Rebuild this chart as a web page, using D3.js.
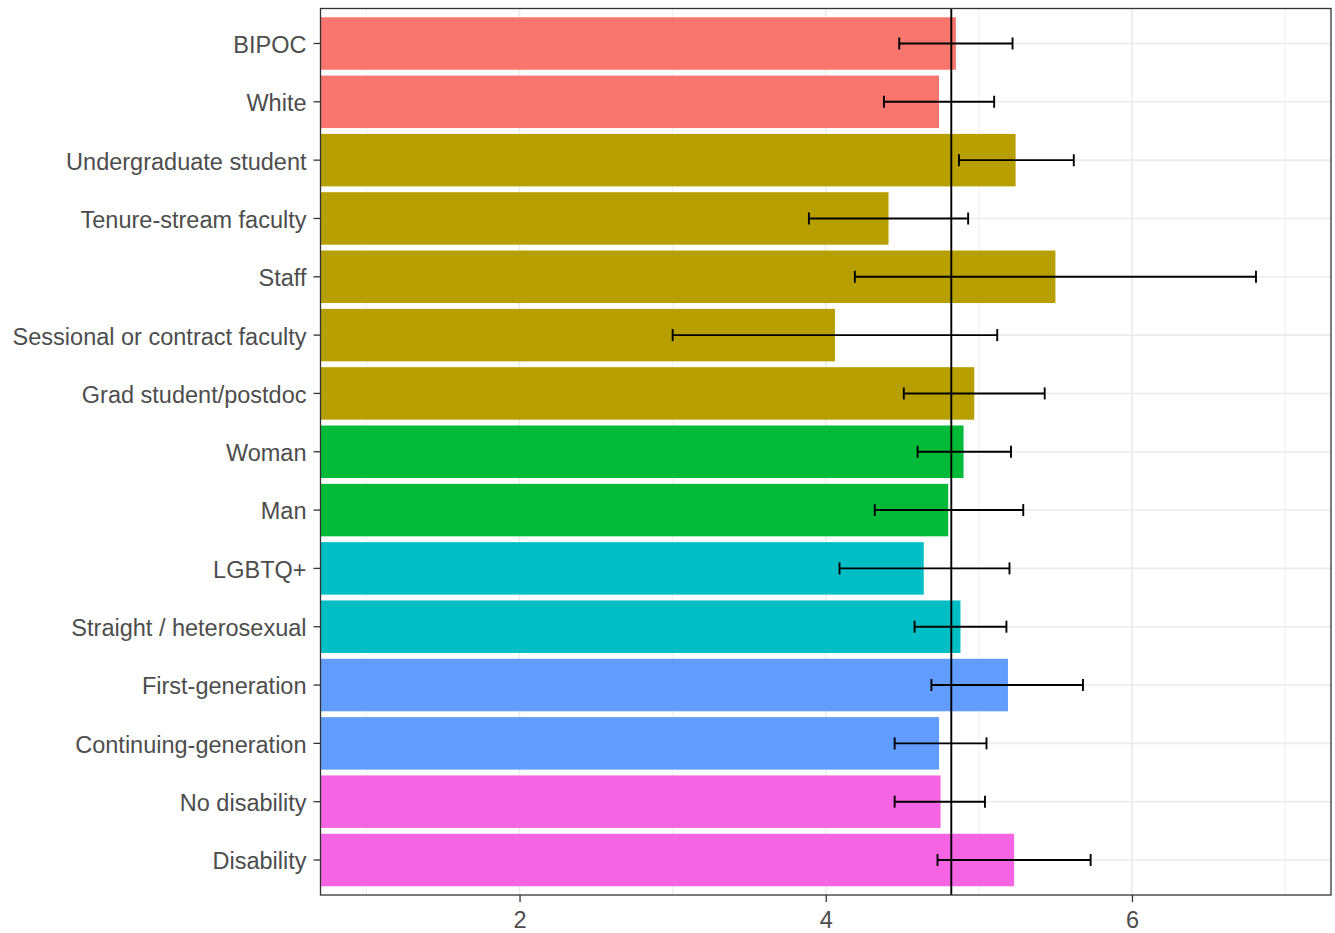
<!DOCTYPE html>
<html>
<head>
<meta charset="utf-8">
<script src="https://cdn.jsdelivr.net/npm/d3@7"></script>
<style>
  html, body { margin: 0; padding: 0; background: #ffffff; }
  svg { display: block; }
  text { font-family: "Liberation Sans", Arial, sans-serif; }
</style>
</head>
<body>
<svg id="chart" width="1335" height="933"></svg>
<script>
// Mean score per respondent group with 95% confidence interval
const categories = [
  "BIPOC", "White",
  "Undergraduate student", "Tenure-stream faculty", "Staff",
  "Sessional or contract faculty", "Grad student/postdoc",
  "Woman", "Man",
  "LGBTQ+", "Straight / heterosexual",
  "First-generation", "Continuing-generation",
  "No disability", "Disability"
];
const groups = [
  "Race", "Race",
  "Role", "Role", "Role", "Role", "Role",
  "Gender", "Gender",
  "Sexuality", "Sexuality",
  "Generation", "Generation",
  "Disability", "Disability"
];
const means = [4.85, 4.74, 5.24, 4.41, 5.50, 4.06, 4.97, 4.90, 4.80, 4.64, 4.88, 5.19, 4.74, 4.75, 5.23];
const lower = [4.48, 4.38, 4.87, 3.89, 4.19, 3.00, 4.51, 4.60, 4.32, 4.09, 4.58, 4.69, 4.45, 4.45, 4.73];
const upper = [5.22, 5.10, 5.62, 4.93, 6.81, 5.12, 5.43, 5.21, 5.29, 5.20, 5.18, 5.68, 5.05, 5.04, 5.73];
const overallMean = 4.82;
const groupNames = ["Race", "Role", "Gender", "Sexuality", "Generation", "Disability"];
const groupColors = ["#F8766D", "#B79F00", "#00BA38", "#00BFC4", "#619CFF", "#F564E3"];
const xTicks = [2, 4, 6];
const xMinor = [1, 3, 5, 7];

const rows = categories.map((c, i) => ({
  name: c, group: groups[i], mean: means[i], lo: lower[i], hi: upper[i]
}));

const panel = { left: 320.5, right: 1331, top: 8.5, bottom: 895 };
const svg = d3.select("#chart");

const x = d3.scaleLinear().domain([0.7, 7.3]).range([panel.left, panel.right]);
const y = d3.scaleBand().domain(categories).range([panel.top, panel.bottom])
  .paddingInner(0.1).paddingOuter(0.15);
const color = d3.scaleOrdinal().domain(groupNames).range(groupColors);
const mid = d => y(d) + y.bandwidth() / 2;

svg.append("defs").append("clipPath").attr("id", "panel-clip")
  .append("rect")
  .attr("x", panel.left).attr("y", panel.top)
  .attr("width", panel.right - panel.left).attr("height", panel.bottom - panel.top);

const plot = svg.append("g").attr("clip-path", "url(#panel-clip)");

// grid
plot.selectAll("line.minor").data(xMinor).join("line")
  .attr("class", "minor")
  .attr("x1", d => x(d)).attr("x2", d => x(d))
  .attr("y1", panel.top).attr("y2", panel.bottom)
  .attr("stroke", "#EBEBEB").attr("stroke-width", 0.8);
plot.selectAll("line.major").data(xTicks).join("line")
  .attr("class", "major")
  .attr("x1", d => x(d)).attr("x2", d => x(d))
  .attr("y1", panel.top).attr("y2", panel.bottom)
  .attr("stroke", "#EBEBEB").attr("stroke-width", 1.6);
plot.selectAll("line.hgrid").data(categories).join("line")
  .attr("class", "hgrid")
  .attr("x1", panel.left).attr("x2", panel.right)
  .attr("y1", d => mid(d)).attr("y2", d => mid(d))
  .attr("stroke", "#EBEBEB").attr("stroke-width", 1.6);

// bars (drawn from zero, clipped to the panel)
plot.selectAll("rect.bar").data(rows).join("rect")
  .attr("class", "bar")
  .attr("x", x(0))
  .attr("y", d => y(d.name))
  .attr("width", d => x(d.mean) - x(0))
  .attr("height", y.bandwidth())
  .attr("fill", d => color(d.group));

// error bars
const capHalf = 6;
const eb = plot.selectAll("g.eb").data(rows).join("g").attr("class", "eb")
  .attr("stroke", "#000").attr("stroke-width", 1.9);
eb.append("line")
  .attr("x1", d => x(d.lo)).attr("x2", d => x(d.hi))
  .attr("y1", d => mid(d.name)).attr("y2", d => mid(d.name));
eb.append("line")
  .attr("x1", d => x(d.lo)).attr("x2", d => x(d.lo))
  .attr("y1", d => mid(d.name) - capHalf).attr("y2", d => mid(d.name) + capHalf);
eb.append("line")
  .attr("x1", d => x(d.hi)).attr("x2", d => x(d.hi))
  .attr("y1", d => mid(d.name) - capHalf).attr("y2", d => mid(d.name) + capHalf);

// overall mean reference line
plot.append("line")
  .attr("x1", x(overallMean)).attr("x2", x(overallMean))
  .attr("y1", panel.top).attr("y2", panel.bottom)
  .attr("stroke", "#000").attr("stroke-width", 1.9);

// panel border
svg.append("rect")
  .attr("x", panel.left).attr("y", panel.top)
  .attr("width", panel.right - panel.left).attr("height", panel.bottom - panel.top)
  .attr("fill", "none").attr("stroke", "#333333").attr("stroke-width", 1.3);

// axes
const xAxis = d3.axisBottom(x).tickValues(xTicks).tickSize(7).tickPadding(9).tickFormat(d3.format("d"));
const gx = svg.append("g").attr("transform", `translate(0,${panel.bottom})`).call(xAxis);
gx.select(".domain").remove();
gx.selectAll(".tick line").attr("stroke", "#333333").attr("stroke-width", 1.3);
gx.selectAll(".tick text").attr("fill", "#4D4D4D").style("font-size", "23.5px")
  .style("font-family", "'Liberation Sans', Arial, sans-serif");

const yAxis = d3.axisLeft(y).tickSize(7).tickPadding(7);
const gy = svg.append("g").attr("transform", `translate(${panel.left},0)`).call(yAxis);
gy.select(".domain").remove();
gy.selectAll(".tick line").attr("stroke", "#333333").attr("stroke-width", 1.3);
gy.selectAll(".tick text").attr("fill", "#4D4D4D").attr("dy", "0.4em").style("font-size", "23.5px")
  .style("font-family", "'Liberation Sans', Arial, sans-serif");
</script>
</body>
</html>
